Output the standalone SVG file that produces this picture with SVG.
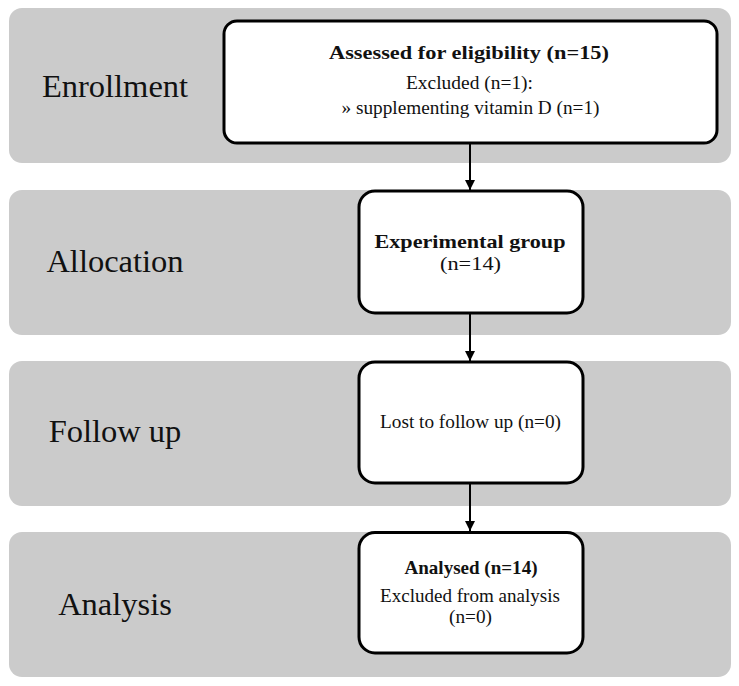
<svg xmlns="http://www.w3.org/2000/svg" width="739" height="686" viewBox="0 0 739 686">
<style>
.band{fill:#cbcbcb;}
.box{fill:#ffffff;stroke:#000000;stroke-width:3;}
.lbl{font-family:"Liberation Serif","Times New Roman",serif;font-size:32.5px;fill:#111;text-anchor:middle;}
.t{font-family:"Liberation Serif","Times New Roman",serif;font-size:19px;fill:#111;text-anchor:middle;}
.b{font-weight:bold;}
.conn{stroke:#000;stroke-width:2;fill:none;}
</style>
<defs>
<marker id="arr" viewBox="0 0 10 10" refX="10" refY="5" markerWidth="5" markerHeight="5" markerUnits="strokeWidth" orient="auto">
<path d="M0,0 L10,5 L0,10 z" fill="#000"/>
</marker>
</defs>
<g id="band-enrollment">
<rect class="band" x="9" y="8" width="722" height="155" rx="13"/>
<text class="lbl" x="115" y="97">Enrollment</text>
</g>
<g id="band-allocation">
<rect class="band" x="9" y="190" width="722" height="145" rx="13"/>
<text class="lbl" x="115" y="272">Allocation</text>
</g>
<g id="band-followup">
<rect class="band" x="9" y="361" width="722" height="145" rx="13"/>
<text class="lbl" x="115" y="442">Follow up</text>
</g>
<g id="band-analysis">
<rect class="band" x="9" y="532" width="722" height="145" rx="13"/>
<text class="lbl" x="115" y="615">Analysis</text>
</g>
<g id="node-assessed">
<rect class="box" x="224" y="21" width="493" height="122" rx="13"/>
<text class="t b" x="469" y="59" textLength="280" lengthAdjust="spacingAndGlyphs">Assessed  for eligibility (n=15)</text>
<text class="t" x="469.5" y="89" textLength="127" lengthAdjust="spacingAndGlyphs">Excluded  (n=1):</text>
<text class="t" x="470.5" y="114" textLength="258" lengthAdjust="spacingAndGlyphs">» supplementing vitamin D (n=1)</text>
</g>
<g id="node-experimental">
<rect class="box" x="359" y="191" width="224" height="122" rx="16"/>
<text class="t b" x="470" y="248" textLength="191" lengthAdjust="spacingAndGlyphs">Experimental  group</text>
<text class="t" x="470.5" y="270" textLength="61" lengthAdjust="spacingAndGlyphs">(n=14)</text>
</g>
<g id="node-followup">
<rect class="box" x="359" y="362" width="224" height="121" rx="16"/>
<text class="t" x="470.5" y="428" textLength="181" lengthAdjust="spacingAndGlyphs">Lost to follow up (n=0)</text>
</g>
<g id="node-analysed">
<rect class="box" x="359" y="532.5" width="224" height="120.5" rx="16"/>
<text class="t b" x="471" y="574" textLength="133" lengthAdjust="spacingAndGlyphs">Analysed (n=14)</text>
<text class="t" x="470" y="601.5" textLength="180" lengthAdjust="spacingAndGlyphs">Excluded from analysis</text>
<text class="t" x="470.5" y="623" textLength="43" lengthAdjust="spacingAndGlyphs">(n=0)</text>
</g>
<g id="connectors">
<line class="conn" x1="470" y1="144" x2="470" y2="190" marker-end="url(#arr)"/>
<line class="conn" x1="470" y1="314" x2="470" y2="361" marker-end="url(#arr)"/>
<line class="conn" x1="470" y1="484" x2="470" y2="531" marker-end="url(#arr)"/>
</g>
</svg>
